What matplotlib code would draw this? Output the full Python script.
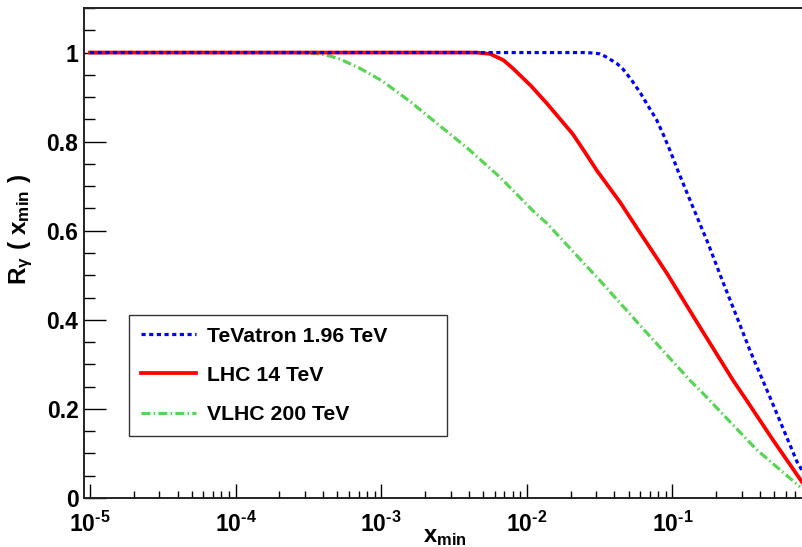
import numpy as np
import matplotlib
matplotlib.use('Agg')
import matplotlib.pyplot as plt
from matplotlib.ticker import FixedLocator, LogLocator, NullFormatter, MultipleLocator

plt.rcParams['font.family'] = ['Liberation Sans', 'DejaVu Sans']
plt.rcParams['font.weight'] = 'bold'
plt.rcParams['mathtext.fontset'] = 'custom'
plt.rcParams['mathtext.rm'] = 'Liberation Sans:bold'
plt.rcParams['mathtext.bf'] = 'Liberation Sans:bold'
plt.rcParams['mathtext.it'] = 'Liberation Sans:bold'

# values
tev_x = [1e-5, 0.025, 0.0282, 0.0318, 0.0347, 0.0372, 0.0417, 0.0457, 0.0525, 0.0603,
         0.0702, 0.0776, 0.0863, 0.0977, 0.109, 0.130, 0.174, 0.224, 0.282, 0.341,
         0.468, 0.718, 0.776]
tev_y = [1.0, 1.0, 0.999, 0.997, 0.991, 0.985, 0.975, 0.963, 0.938, 0.909,
         0.873, 0.850, 0.817, 0.775, 0.735, 0.674, 0.575, 0.482, 0.400, 0.331,
         0.226, 0.081, 0.062]

lhc_x = [1e-5, 4.5e-3, 5.6e-3, 6.9e-3, 8.0e-3, 1.07e-2, 1.38e-2, 1.70e-2, 2.07e-2,
         2.51e-2, 3.03e-2, 4.37e-2, 5.71e-2, 9.18e-2, 0.155, 0.261, 0.316, 0.491, 0.776]
lhc_y = [1.0, 1.0, 0.997, 0.983, 0.965, 0.925, 0.885, 0.850, 0.817,
         0.776, 0.735, 0.664, 0.606, 0.504, 0.383, 0.264, 0.224, 0.130, 0.036]

vlhc_x = [1e-5, 2.5e-4, 3.16e-4, 3.8e-4, 4.47e-4, 5.25e-4, 7.1e-4, 1.02e-3, 1.58e-3,
          2.29e-3, 3.89e-3, 6.6e-3, 1.10e-2, 1.38e-2, 3.18e-2, 6.7e-2, 0.132, 0.162,
          0.380, 0.752]
vlhc_y = [1.0, 1.0, 0.999, 0.997, 0.992, 0.985, 0.965, 0.936, 0.890,
          0.847, 0.786, 0.719, 0.645, 0.616, 0.488, 0.370, 0.264, 0.235,
          0.108, 0.025]

labels = ['TeVatron 1.96 TeV', 'LHC 14 TeV', 'VLHC 200 TeV']

x_ticks = [1e-5, 1e-4, 1e-3, 1e-2, 1e-1]
x_ticklabels = [r'$\mathbf{10^{\text{-}5}}$', r'$\mathbf{10^{\text{-}4}}$',
                r'$\mathbf{10^{\text{-}3}}$', r'$\mathbf{10^{\text{-}2}}$',
                r'$\mathbf{10^{\text{-}1}}$']
y_ticks = [0, 0.2, 0.4, 0.6, 0.8, 1.0]
y_ticklabels = ['0', '0.2', '0.4', '0.6', '0.8', '1']


fig = plt.figure(figsize=(8.02, 5.47), dpi=100)
ax = fig.add_axes([84 / 802, 49 / 547, 718 / 802, 490 / 547])

ax.plot(tev_x, tev_y, color='#0000ff', linewidth=2.3, linestyle=(0, (1.3, 1.1)),
        label=labels[0], zorder=3)
ax.plot(lhc_x, lhc_y, color='#ff0000', linewidth=2.7, label=labels[1], zorder=2)
ax.plot(vlhc_x, vlhc_y, color='#59d454', linewidth=2.3, linestyle=(0, (2.8, 1.0, 0.5, 1.0)),
        label=labels[2], zorder=1)

ax.set_xscale('log')
ax.set_xlim(9.1e-6, 0.776)
ax.set_ylim(0, 1.1)

# ROOT style frame: ticks inside, left and bottom only
for s in ['left', 'bottom', 'top']:
    ax.spines[s].set_linewidth(1.4)
    ax.spines[s].set_color('#222222')
ax.spines['right'].set_visible(False)

ax.xaxis.set_major_locator(FixedLocator(x_ticks))
ax.set_xticklabels(x_ticklabels)
ax.xaxis.set_minor_locator(LogLocator(base=10, subs=np.arange(2, 10)))
ax.xaxis.set_minor_formatter(NullFormatter())
ax.yaxis.set_major_locator(FixedLocator(y_ticks))
ax.set_yticklabels(y_ticklabels)
ax.yaxis.set_minor_locator(MultipleLocator(0.05))

ax.tick_params(axis='x', which='major', direction='in', length=10, width=1.0, pad=10,
               labelsize=16.5, top=False)
ax.tick_params(axis='x', which='minor', direction='in', length=5, width=1.0, top=False)
ax.tick_params(axis='y', which='major', direction='in', length=16, width=1.0, pad=4,
               labelsize=16.5, right=False)
ax.tick_params(axis='y', which='minor', direction='in', length=8, width=1.0, right=False)

ax.set_xlabel(r'$\mathbf{x_{min}}$', fontsize=17)
ax.xaxis.set_label_coords(0.503, -0.058)
ax.set_ylabel(r'$\mathbf{R_{\gamma}\ (\ x_{min}\ )}$', fontsize=17.5)
ax.yaxis.set_label_coords(-0.068, 0.548)

leg = ax.legend(loc='upper left', bbox_to_anchor=(0.0627, 0.1245, 0.443, 0.249),
                mode='expand', borderaxespad=0, fontsize=15.3, frameon=True, fancybox=False,
                handlelength=2.6, handletextpad=0.5, labelspacing=0.95, borderpad=0.55)
leg.get_frame().set_edgecolor('black')
leg.get_frame().set_linewidth(1.0)

fig.savefig('out.png', dpi=100)
